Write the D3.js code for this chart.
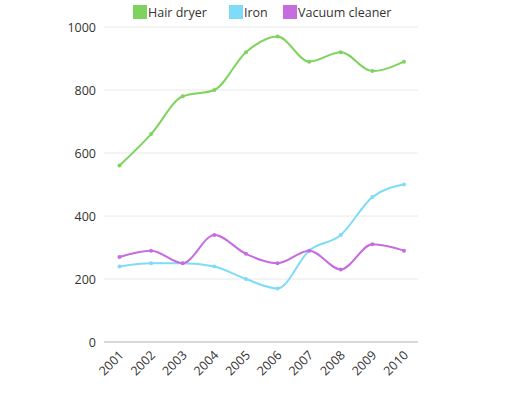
<!DOCTYPE html><html><head><script src="https://cdn.jsdelivr.net/npm/d3@7"></script>
<style>body{margin:0;background:#fff}text{font-family:"Open Sans",sans-serif}</style></head><body>
<svg id="c" width="512" height="411"></svg>
<script>
const years=["2001","2002","2003","2004","2005","2006","2007","2008","2009","2010"];
const hairDryer=[560,660,780,800,920,970,890,920,860,890];
const iron=[240,250,250,240,200,170,290,340,460,500];
const vacuum=[270,290,250,340,280,250,290,230,310,290];
const seriesNames=["Hair dryer","Iron","Vacuum cleaner"];
const colors=["#7ed35e","#7fdcf8","#c76ce0"];
const yTicks=[0,200,400,600,800,1000];
const svg=d3.select("#c");
const x=d3.scalePoint().domain(years).range([119.5,404]);
const y=d3.scaleLinear().domain([0,1000]).range([342,27]);
const L=104,R=418;
svg.append("g").selectAll("line").data(yTicks.slice(1)).join("line")
 .attr("x1",L).attr("x2",R).attr("y1",d=>y(d)).attr("y2",d=>y(d)).attr("stroke","#e8e8e8");
svg.append("line").attr("x1",L).attr("x2",R).attr("y1",y(0)).attr("y2",y(0)).attr("stroke","#ccc").attr("stroke-width",1.5);
svg.append("g").selectAll("text").data(yTicks).join("text").attr("x",96).attr("y",d=>y(d)+4.5)
 .attr("text-anchor","end").attr("font-size",12.5).attr("fill","#333").text(d=>d);
svg.append("g").selectAll("text").data(years).join("text")
 .attr("transform",d=>`translate(${x(d)+5},${y(0)+14}) rotate(-45)`).attr("text-anchor","end")
 .attr("font-size",12.5).attr("fill","#333").text(d=>d);
const data=[hairDryer,iron,vacuum];
const line=d3.line().x((d,i)=>x(years[i])).y(d=>y(d)).curve(d3.curveMonotoneX);
data.forEach((s,k)=>{
 svg.append("path").attr("d",line(s)).attr("fill","none").attr("stroke",colors[k]).attr("stroke-width",2);
 svg.append("g").selectAll("circle").data(s).join("circle").attr("cx",(d,i)=>x(years[i])).attr("cy",d=>y(d)).attr("r",2).attr("fill",colors[k]);
});
const lx=[133,229,283];
seriesNames.forEach((n,k)=>{
 svg.append("rect").attr("x",lx[k]).attr("y",5).attr("width",14).attr("height",14).attr("fill",colors[k]);
 svg.append("text").attr("x",lx[k]+15).attr("y",17).attr("font-size",12.5).attr("fill","#333").text(n);
});
</script></body></html>
